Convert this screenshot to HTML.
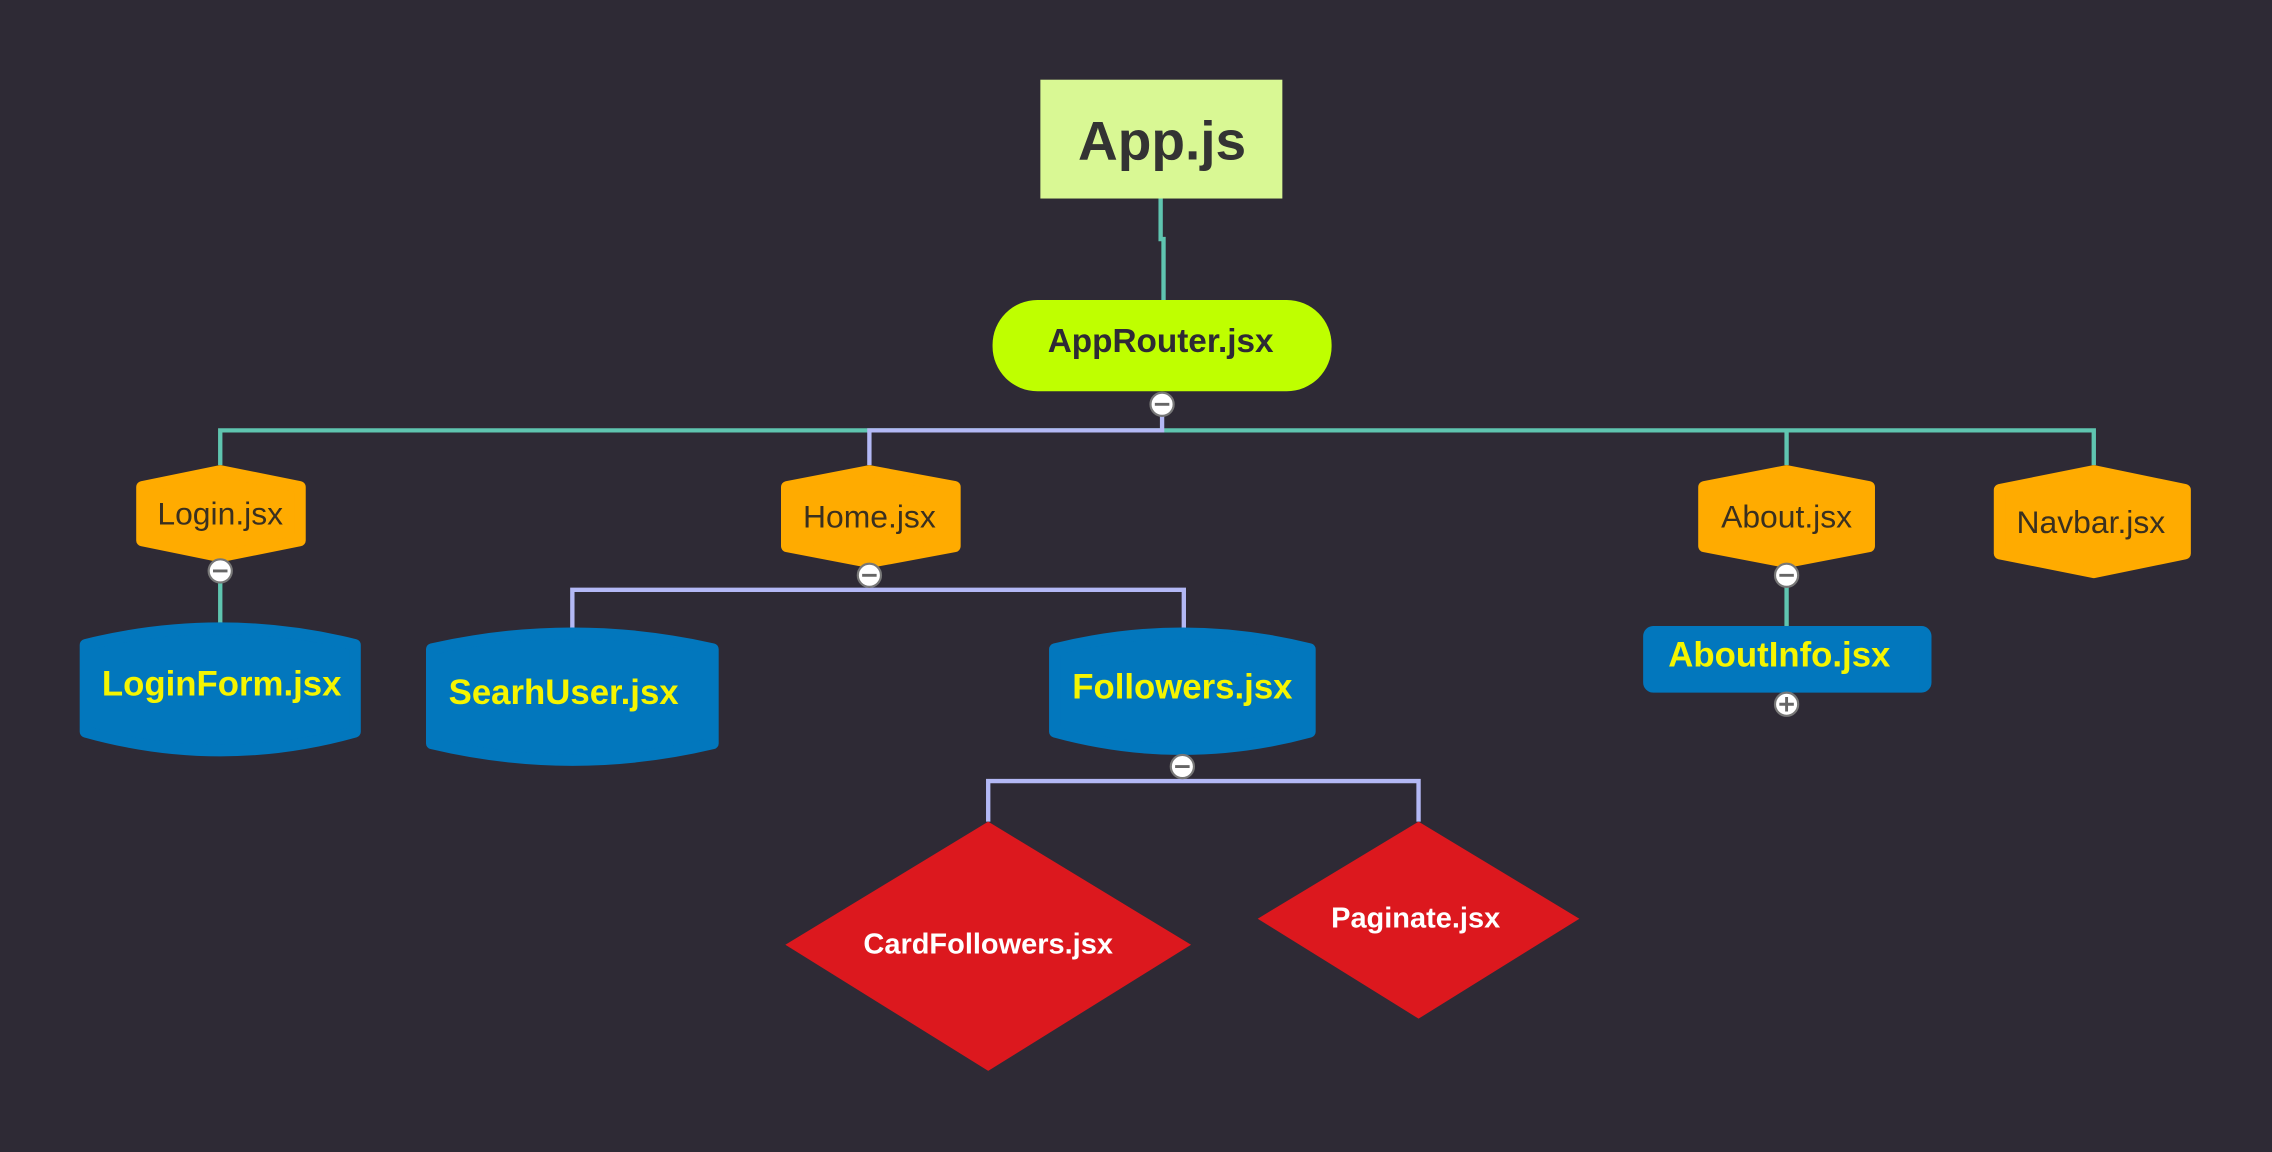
<!DOCTYPE html>
<html><head><meta charset="utf-8"><style>
html,body{margin:0;padding:0;background:#2e2a35;}
svg{display:block}
text{font-family:"Liberation Sans",sans-serif;}
.nar{font-family:"Liberation Sans Narrow","Liberation Sans",sans-serif;}
</style></head><body>
<svg width="2272" height="1152" viewBox="0 0 1568 795" preserveAspectRatio="none" xmlns="http://www.w3.org/2000/svg">
<rect width="1568" height="795" fill="#2e2a35"/>
<g fill="none" stroke-width="3">
<path d="M801 137V165H803V207" stroke="#5fc5b0"/>
<path d="M152 321V297H1445V321M1233 297V321" stroke="#5fc5b0"/>
<path d="M802 287V297H600V321" stroke="#b3b8f5"/>
<path d="M152 402V430" stroke="#5fc5b0"/>
<path d="M1233 405V433" stroke="#5fc5b0"/>
<path d="M600 405V407H395V434M600 407H817V434" stroke="#b3b8f5"/>
<path d="M816 537V539H682V567M816 539H979V567" stroke="#b3b8f5"/>
</g>
<rect x="718" y="55" width="167" height="82" fill="#d9f894"/>
<text x="802" y="110" text-anchor="middle" font-size="38" font-weight="bold" fill="#333" class="nar">App.js</text>
<rect x="685" y="207" width="234" height="63" rx="31" fill="#bfff00"/>
<text x="801" y="243" text-anchor="middle" font-size="23" font-weight="bold" fill="#2e2a35">AppRouter.jsx</text>
<g fill="#ffab00" stroke="#ffab00" stroke-width="8" stroke-linejoin="round">
<polygon points="152,325 207,336 207,373 152,384 98,373 98,336"/>
<polygon points="600,325 659,336 659,377 600,388 543,377 543,336"/>
<polygon points="1233,325 1290,336 1290,377 1233,388 1176,377 1176,336"/>
<polygon points="1445,325 1508,338 1508,382 1445,395 1380,382 1380,338"/>
</g>
<g font-size="22" fill="#3a3020" text-anchor="middle">
<text x="152" y="362">Login.jsx</text>
<text x="600" y="364">Home.jsx</text>
<text x="1233" y="364">About.jsx</text>
<text x="1443" y="368">Navbar.jsx</text>
</g>
<g fill="#0277bd" stroke="#0277bd" stroke-width="8" stroke-linejoin="round">
<path d="M59 445Q152 422 245 445V505Q152 531 59 505Z"/>
<path d="M298 448Q395 426 492 448V513Q395 536 298 513Z"/>
<path d="M728 448Q816 426 904 448V505Q816 529 728 505Z"/>
<rect x="1138" y="436" width="191" height="38" rx="3"/>
</g>
<g font-size="24" font-weight="bold" fill="#f5f500" text-anchor="middle">
<text x="153" y="480">LoginForm.jsx</text>
<text x="389" y="486">SearhUser.jsx</text>
<text x="816" y="482">Followers.jsx</text>
<text x="1228" y="460">AboutInfo.jsx</text>
</g>
<polygon points="682,567 822,652 682,739 542,652" fill="#dc181e"/>
<polygon points="979,567 1090,634 979,703 868,634" fill="#dc181e"/>
<g font-size="20" font-weight="bold" fill="#fff" text-anchor="middle">
<text x="682" y="658">CardFollowers.jsx</text>
<text x="977" y="640">Paginate.jsx</text>
</g>
<g fill="#fff" stroke="#777" stroke-width="1.5">
<circle cx="802" cy="279" r="8"/>
<circle cx="152" cy="394" r="8"/>
<circle cx="600" cy="397" r="8"/>
<circle cx="1233" cy="397" r="8"/>
<circle cx="816" cy="529" r="8"/>
<circle cx="1233" cy="486" r="8"/>
</g>
<g stroke="#666" stroke-width="2">
<path d="M797 279H807M147 394H157M595 397H605M1228 397H1238M811 529H821M1228 486H1238M1233 481V491"/>
</g>
</svg>
</body></html>
